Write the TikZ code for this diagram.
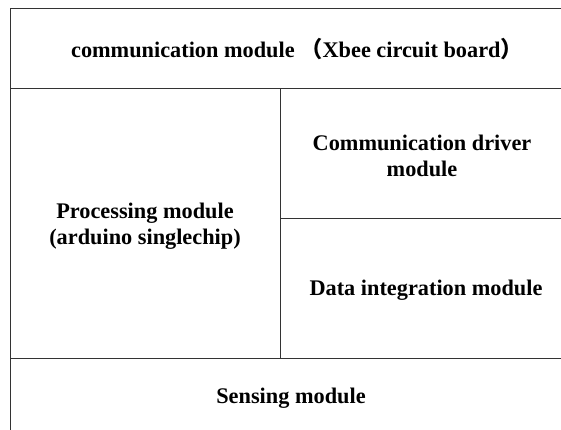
\documentclass[tikz,border=0pt]{standalone}
\usepackage{fontspec}
\setmainfont{Liberation Serif}
\newfontfamily\cjk{Noto Sans CJK SC}
\begin{document}
\begin{tikzpicture}[x=1pt,y=-1pt,
  rule/.style={draw=black!80,line width=1pt},
  label/.style={font=\bfseries\fontsize{22.3}{26}\selectfont,align=center,inner sep=0pt}]
\useasboundingbox (0,0) rectangle (561,430);
% grid coordinates
\coordinate (tl) at (10,9);
\coordinate (tr) at (561,9);
\coordinate (ml) at (10,89);
\coordinate (mr) at (561,89);
\coordinate (vt) at (280,89);
\coordinate (vb) at (280,358);
\coordinate (rm) at (280,218);
\coordinate (rr) at (561,218);
\coordinate (bl) at (10,358);
\coordinate (br) at (561,358);
\coordinate (lb) at (10,430);
% rules
\draw[rule] (tl) -- (tr);
\draw[rule] (ml) -- (mr);
\draw[rule] (tl) -- (lb);
\draw[rule] (vt) -- (vb);
\draw[rule] (rm) -- (rr);
\draw[rule] (bl) -- (br);
% labels
\node[label] (comm) at (297,49) {communication module {\cjk （}Xbee circuit board{\cjk ）}};
\node[label] (proc) at (145,226) {Processing module\\(arduino singlechip)};
\node[label] (drv) at (422,156) {Communication driver\\module};
\node[label] (data) at (426,290) {Data integration module};
\node[label] (sens) at (291,398) {Sensing module};
\end{tikzpicture}
\end{document}
